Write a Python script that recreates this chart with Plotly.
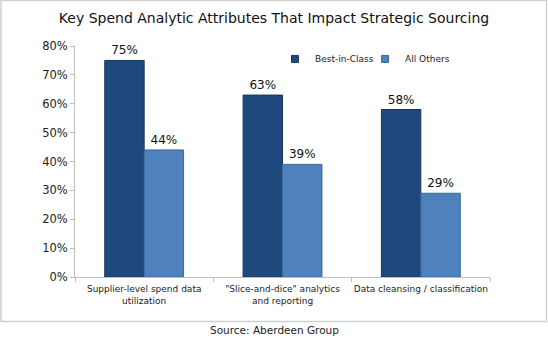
import plotly.graph_objects as go

categories = ["Supplier-level spend data<br>utilization",
              "\"Slice-and-dice\" analytics<br>and reporting",
              "Data cleansing / classification"]
best_in_class = [75, 63, 58]
all_others = [44, 39, 29]
best_labels = ["75%", "63%", "58%"]
other_labels = ["44%", "39%", "29%"]
tick_vals = [0, 10, 20, 30, 40, 50, 60, 70, 80]
tick_text = ["0%", "10%", "20%", "30%", "40%", "50%", "60%", "70%", "80%"]

FONT = "DejaVu Sans"
DARK = "#1F497D"
LIGHT = "#4F81BD"

fig = go.Figure()
fig.add_trace(go.Bar(
    x=categories, y=best_in_class, name="Best-in-Class", showlegend=False,
    marker=dict(color=DARK, line=dict(color="#17365D", width=1)),
    text=best_labels, textposition="outside", cliponaxis=False,
    textfont=dict(family=FONT, size=12, color="#111111"),
))
fig.add_trace(go.Bar(
    x=categories, y=all_others, name="All Others", showlegend=False,
    marker=dict(color=LIGHT, line=dict(color="#3A6699", width=1)),
    text=other_labels, textposition="outside", cliponaxis=False,
    textfont=dict(family=FONT, size=12, color="#111111"),
))
# legend-only entries with small square markers
fig.add_trace(go.Scatter(x=[None], y=[None], mode="markers", name="Best-in-Class",
                         legend="legend",
                         marker=dict(symbol="square", size=7, color=DARK,
                                     line=dict(color="#17365D", width=1))))
fig.add_trace(go.Scatter(x=[None], y=[None], mode="markers", name="All Others",
                         legend="legend2",
                         marker=dict(symbol="square", size=7, color=LIGHT,
                                     line=dict(color="#3A6699", width=1))))

legend_common = dict(orientation="h", y=0.944, xanchor="left", yanchor="middle",
                     font=dict(family=FONT, size=9, color="#222222"),
                     bgcolor="rgba(0,0,0,0)", itemwidth=30)

fig.update_layout(
    width=548, height=338,
    margin=dict(l=75, r=58, t=46, b=61, autoexpand=False),
    paper_bgcolor="white", plot_bgcolor="white",
    barmode="group", bargap=0.43, bargroupgap=0,
    title=dict(text="Key Spend Analytic Attributes That Impact Strategic Sourcing",
               x=0.5, xanchor="center", y=0.945, yanchor="middle",
               font=dict(family=FONT, size=14, color="#111111")),
    legend=dict(x=0.482, **legend_common),
    legend2=dict(x=0.699, **legend_common),
    showlegend=True,
)
fig.update_yaxes(range=[0, 80], tickvals=tick_vals, ticktext=tick_text,
                 showgrid=False, showline=True, linecolor="#BFBFBF", linewidth=1,
                 ticks="outside", ticklen=4, tickcolor="#BFBFBF",
                 tickfont=dict(family=FONT, size=11.5, color="#222222"),
                 zeroline=False, automargin=False)
fig.update_xaxes(showline=True, linecolor="#BFBFBF", linewidth=1,
                 ticks="outside", tickson="boundaries", ticklen=4, tickcolor="#BFBFBF",
                 tickangle=0, automargin=False, ticklabelstandoff=3,
                 tickfont=dict(family=FONT, size=9, color="#222222"),
                 showgrid=False)

fig.add_shape(type="rect", xref="paper", yref="paper",
              x0=-74/415, x1=(546.5-75)/415, y0=(277-321.5)/231, y1=(277-0.5)/231,
              line=dict(color="#D0D0D0", width=1.5), fillcolor="rgba(0,0,0,0)", layer="below")
fig.add_annotation(text="Source: Aberdeen Group", xref="paper", yref="paper",
                   x=(274-75)/415, y=(277-330)/231, xanchor="center", yanchor="middle",
                   showarrow=False, font=dict(family=FONT, size=10.5, color="#222222"))

fig.write_html("out.html")
